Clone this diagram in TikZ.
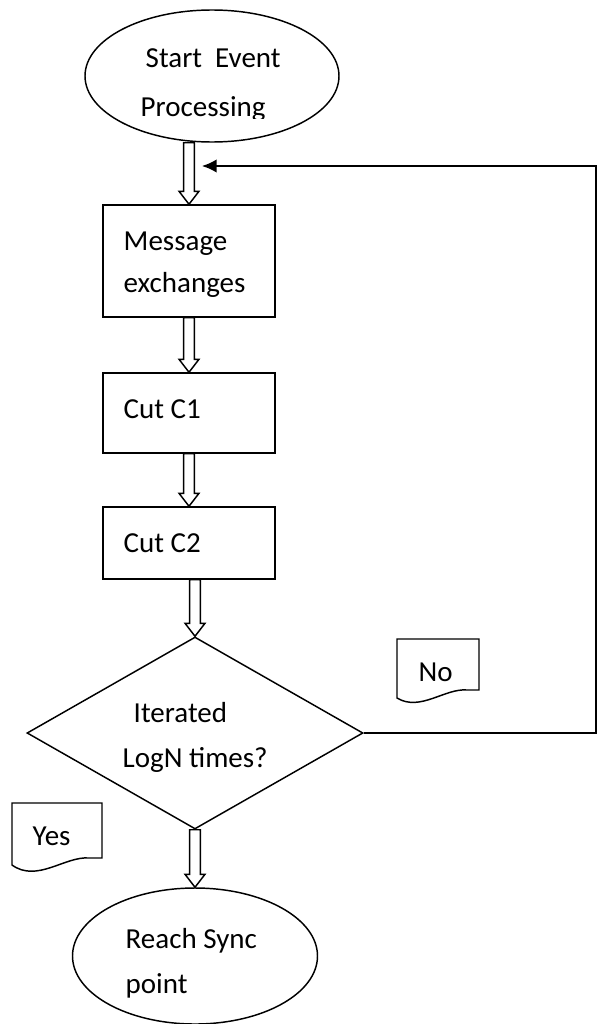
\documentclass[tikz,border=0pt]{standalone}
\usepackage{fontspec}
\setmainfont{Carlito}
\usetikzlibrary{shapes.geometric,arrows.meta,calc}

% hollow block arrow between two shapes
\newcommand{\flowarrow}[2]{%
  \draw[line width=1.1pt, fill=white] let \p1=(#1.south), \p2=(#2.north) in
    (\x2-4.1pt,\y1) -- (\x2-4.1pt,\y2+9.75pt) -- (\x2-7.5pt,\y2+9.75pt) -- (\x2,\y2)
    -- (\x2+7.5pt,\y2+9.75pt) -- (\x2+4.1pt,\y2+9.75pt) -- (\x2+4.1pt,\y1) -- cycle;}

\begin{document}
\begin{tikzpicture}[x=0.75pt, y=-0.75pt,
    line width=1.1pt,
    lbl/.style={font=\fontsize{21.75}{26}\selectfont, inner sep=0pt, anchor=base west},
    stepbox/.style={draw, rectangle, inner sep=0pt, minimum width=129pt},
    oval/.style={draw, ellipse, inner sep=0pt},
    decision/.style={draw, diamond, inner sep=0pt, minimum width=252pt, minimum height=144pt}]
    \useasboundingbox (0,0) rectangle (598,1024);
    % Shapes of the flow
    \node[oval, minimum width=190.5pt, minimum height=99pt] (start) at (212,76) {};
    \node[stepbox, minimum height=84pt] (msg) at (189,261) {};
    \node[stepbox, minimum height=60pt] (cutA) at (189,413) {};
    \node[stepbox, minimum height=54pt] (cutB) at (189,543) {};
    \node[decision] (iter) at (195,733) {};
    \node[oval, minimum width=183.75pt, minimum height=102pt] (sync) at (195,956) {};
    % Texts (the start text is cut off at the bottom)
    \begin{scope}
        \clip (80,0) rectangle (345,118);
        \node[lbl] (starttxt) at (145,68) {Start~~Event};
        \node[lbl] (starttxtb) at (140,116) {Processing};
    \end{scope}
    \node[lbl] (msgtxt) at (123,250) {Message};
    \node[lbl] (msgtxtb) at (123,292) {exchanges};
    \node[lbl] (cutAtxt) at (123,418) {Cut C1};
    \node[lbl] (cutBtxt) at (123,552) {Cut C2};
    \node[lbl] (itertxt) at (133,722) {Iterated};
    \node[lbl] (itertxtb) at (122,767) {LogN times?};
    \node[lbl] (synctxt) at (125,948) {Reach Sync};
    \node[lbl] (synctxtb) at (125,993) {point};
    % Block arrows down the flow
    \flowarrow{start}{msg}
    \flowarrow{msg}{cutA}
    \flowarrow{cutA}{cutB}
    \flowarrow{cutB}{iter}
    \flowarrow{iter}{sync}
    % Loop back when not done
    \coordinate (back) at (202,166);
    \draw[-{Latex[length=11pt,width=10pt]}] (iter.east) -- (596,733) -- (596,166) -- (back);
    % Answer notes
    \draw (397,639) -- (479,639) -- (479,690) -- (467,690)
        .. controls (445,688) and (420,712) .. (397,698) -- cycle;
    \node[lbl] (notxt) at (418,681) {No};
    \draw (12,803) -- (102,803) -- (102,858) -- (89,858)
        .. controls (65,856) and (37,883) .. (12,865) -- cycle;
    \node[lbl] (yestxt) at (32,845) {Yes};
\end{tikzpicture}
\end{document}
